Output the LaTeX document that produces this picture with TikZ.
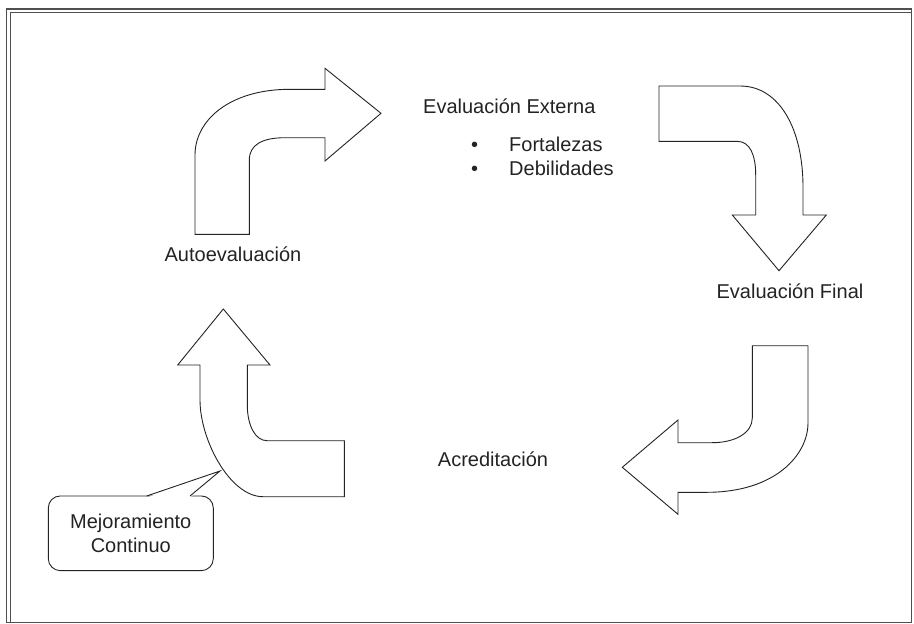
\documentclass[tikz,border=0pt]{standalone}
\usepackage{fontspec}
\setmainfont{Liberation Sans}
\definecolor{ink}{RGB}{35,35,35}
\begin{document}
\begin{tikzpicture}[x=1pt,y=-1pt,
  lbl/.style={font=\fontsize{20}{24}\selectfont, text=ink, inner sep=0pt},
  bentarrow/.style={draw=ink, line width=0.9pt, line join=miter, fill=white},
  frameline/.style={draw=ink!80, line width=1.1pt}]
\useasboundingbox (0,0) rectangle (914,624);
% frame
\draw[frameline] (6.5,9) rectangle (911.3,622.5);
\draw[frameline] (10.8,622.5) -- (10.8,12.8) -- (911.3,12.8);

% arrow 1: up then right
\draw[bentarrow] (195,234.3) -- (195,155) .. controls (195,120) and (230,89.3) .. (290,89.3)
  -- (325,89.3) -- (325,68.3) -- (381,113.3) -- (325,161) -- (325,137.7) -- (285,137.7)
  .. controls (262,137.7) and (249.3,145) .. (249.3,160) -- (249.3,234.3) -- cycle;

% arrow 2: right then down
\draw[bentarrow] (659,86) -- (740,86) .. controls (780,86) and (803,130) .. (803,187)
  -- (803,215) -- (826.3,215) -- (779,270.7) -- (732.3,215) -- (755.7,215) -- (755.7,175)
  .. controls (755.7,155) and (750,141.3) .. (737,141.3) -- (659,141.3) -- cycle;

% arrow 3: down then left
\draw[bentarrow] (752.3,345.7) -- (752.3,418) .. controls (752.3,433) and (735,442.7) .. (712,442.7)
  -- (678,442.7) -- (678,420) -- (622.3,467.3) -- (678,514.3) -- (678,492.3) -- (707,492.3)
  .. controls (775,492.3) and (808,455) .. (808,423) -- (808,345.7) -- cycle;

% arrow 4: left then up
\draw[bentarrow] (344.3,440.7) -- (267,440.7) .. controls (255,440.7) and (247.3,425) .. (247.3,405)
  -- (247.3,365) -- (270,365) -- (223.3,309) -- (177.7,365) -- (200,365) -- (200,400)
  .. controls (200,440) and (230,496.7) .. (263,496.7) -- (344.3,496.7) -- cycle;

% labels
\node[lbl, anchor=base] (auto) at (233,261.7) {Autoevaluación};
\node[lbl, anchor=base west] (ext) at (423,113.3) {Evaluación Externa};
\node[lbl, anchor=base] (b1) at (474.7,151) {•};
\node[lbl, anchor=base west] (fort) at (509,151) {Fortalezas};
\node[lbl, anchor=base] (b2) at (474.7,175.7) {•};
\node[lbl, anchor=base west] (deb) at (509,175.7) {Debilidades};
\node[lbl, anchor=base] (fin) at (790,298.3) {Evaluación Final};
\node[lbl, anchor=base] (acr) at (493,466.7) {Acreditación};

% callout
\node[lbl, draw=ink, line width=0.9pt, rounded corners=12pt, minimum width=165pt,
  minimum height=74.7pt, align=center] (mc) at (130.8,533.3) {Mejoramiento\\Continuo};
\coordinate (tip) at (220,471);
\fill[white] (147,497.6) -- (tip) -- (190,497.6) -- cycle;
\draw[draw=ink, line width=0.9pt, line join=miter] (146.7,496) -- (tip) -- (190,496);
\end{tikzpicture}
\end{document}
